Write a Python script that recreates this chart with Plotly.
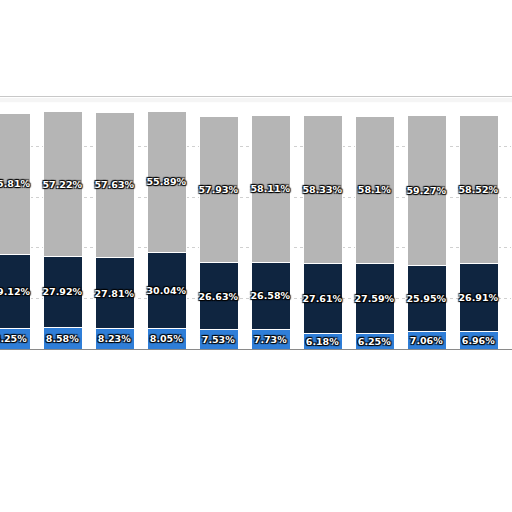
import plotly.graph_objects as go

# Stacked shares per period (bottom -> top)
periods = list(range(11))
share_low = [8.25, 8.58, 8.23, 8.05, 7.53, 7.73, 6.18, 6.25, 7.06, 6.96, 7.00]
share_mid = [29.12, 27.92, 27.81, 30.04, 26.63, 26.58, 27.61, 27.59, 25.95, 26.91, 27.00]
share_top = [55.81, 57.22, 57.63, 55.89, 57.93, 58.11, 58.33, 58.1, 59.27, 58.52, 58.50]

series = [
    ('Low', share_low, '#2f7ed8'),
    ('Mid', share_mid, '#0f2540'),
    ('Top', share_top, '#b5b5b5'),
]

outline = '1px 1px 1px #000, -1px -1px 1px #000, 1px -1px 1px #000, -1px 1px 1px #000'

fig = go.Figure()
for name, vals, color in series:
    fig.add_trace(go.Bar(
        x=periods,
        y=vals,
        name=name,
        marker=dict(color=color, line=dict(color='white', width=1)),
        texttemplate='%{y}%',
        textposition='inside',
        insidetextanchor='middle',
        textangle=0,
        constraintext='none',
        textfont=dict(family='DejaVu Sans', size=9.5, color='white',
                      weight='bold', shadow=outline),
        cliponaxis=True,
    ))

fig.update_layout(
    barmode='stack',
    bargap=0.25,
    width=512, height=512,
    margin=dict(l=0, r=0, t=96, b=163, autoexpand=False),
    paper_bgcolor='white',
    plot_bgcolor='white',
    showlegend=False,
    xaxis=dict(range=[-0.202, 9.644], showticklabels=False, showgrid=False,
               zeroline=False, showline=True, linecolor='#8a8a8a', linewidth=1),
    yaxis=dict(range=[0, 100], dtick=20, showticklabels=False, showgrid=True,
               gridcolor='#d0d0d0', griddash='dot', gridwidth=1, zeroline=False),
    shapes=[
        dict(type='line', xref='paper', yref='y', x0=0, x1=1, y0=100, y1=100,
             line=dict(color='#c8c8c8', width=2), layer='above'),
        dict(type='rect', xref='paper', yref='y', x0=0, x1=1, y0=99.2, y1=97.5,
             fillcolor='rgba(0,0,0,0.04)', line=dict(width=0), layer='below'),
    ],
)

# drop the default page margin so the figure sits at the window's corner
fig.write_html("out.html", config={'displayModeBar': False},
               post_script="document.body.style.margin='0';")
